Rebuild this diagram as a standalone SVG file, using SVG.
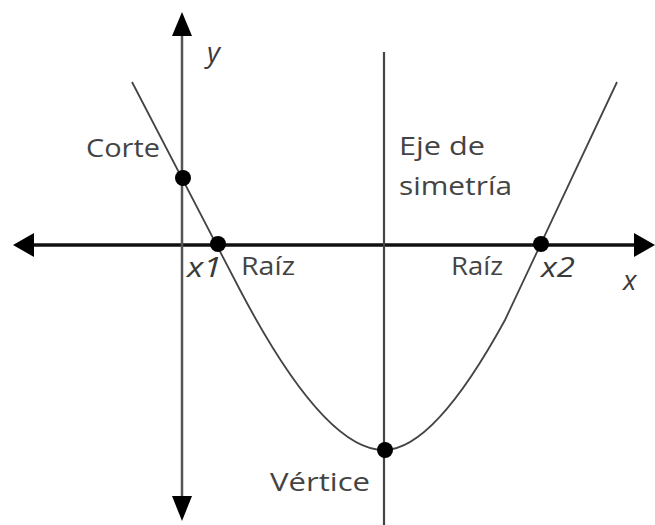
<svg xmlns="http://www.w3.org/2000/svg" width="655" height="525" viewBox="0 0 655 525">
<style>
.lbl{font-family:"Open Sans","Liberation Sans",sans-serif;font-size:26px;fill:#444}
.it{font-family:"Open Sans","Liberation Sans",sans-serif;font-size:28px;font-style:italic;fill:#3a3a3a}
.dot{fill:#000}
</style>
<rect width="655" height="525" fill="#fff"/>
<g id="axes">
<line x1="32" y1="245" x2="637" y2="245" stroke="#111" stroke-width="3.5"/>
<polygon points="13,245 34,233 34,257" fill="#000"/>
<polygon points="655,245 634,233 634,257" fill="#000"/>
<line x1="182" y1="32" x2="182" y2="500" stroke="#555" stroke-width="2.5"/>
<polygon points="182,12 172,36 192,36" fill="#000"/>
<polygon points="182,521 172,496 192,496" fill="#000"/>
</g>
<g id="symmetry">
<line x1="384" y1="52" x2="384" y2="525" stroke="#444" stroke-width="2.2"/>
</g>
<g id="parabola">
<path d="M132,82 L240,290 C290,385 340,450 384,450 C425,450 470,384 505,320 L617,82" fill="none" stroke="#444" stroke-width="1.8"/>
</g>
<g id="points">
<circle class="dot" cx="183" cy="178" r="8"/>
<circle class="dot" cx="218" cy="244" r="8"/>
<circle class="dot" cx="541" cy="244" r="8"/>
<circle class="dot" cx="385" cy="450" r="8"/>
</g>
<g id="labels">
<text class="it" x="207" y="62" font-size="31">y</text>
<text class="lbl" x="86" y="157" textLength="74" lengthAdjust="spacingAndGlyphs">Corte</text>
<text class="lbl" x="399" y="155" textLength="86" lengthAdjust="spacingAndGlyphs">Eje de</text>
<text class="lbl" x="399" y="195" textLength="113" lengthAdjust="spacingAndGlyphs">simetría</text>
<text class="it" x="187" y="277" textLength="35" lengthAdjust="spacingAndGlyphs">x1</text>
<text class="lbl" x="241" y="275" textLength="54" lengthAdjust="spacingAndGlyphs">Raíz</text>
<text class="lbl" x="451" y="275" textLength="52" lengthAdjust="spacingAndGlyphs">Raíz</text>
<text class="it" x="541" y="277" textLength="34" lengthAdjust="spacingAndGlyphs">x2</text>
<text class="it" x="623" y="290" font-size="31">x</text>
<text class="lbl" x="270" y="491" textLength="100" lengthAdjust="spacingAndGlyphs">Vértice</text>
</g>
</svg>
